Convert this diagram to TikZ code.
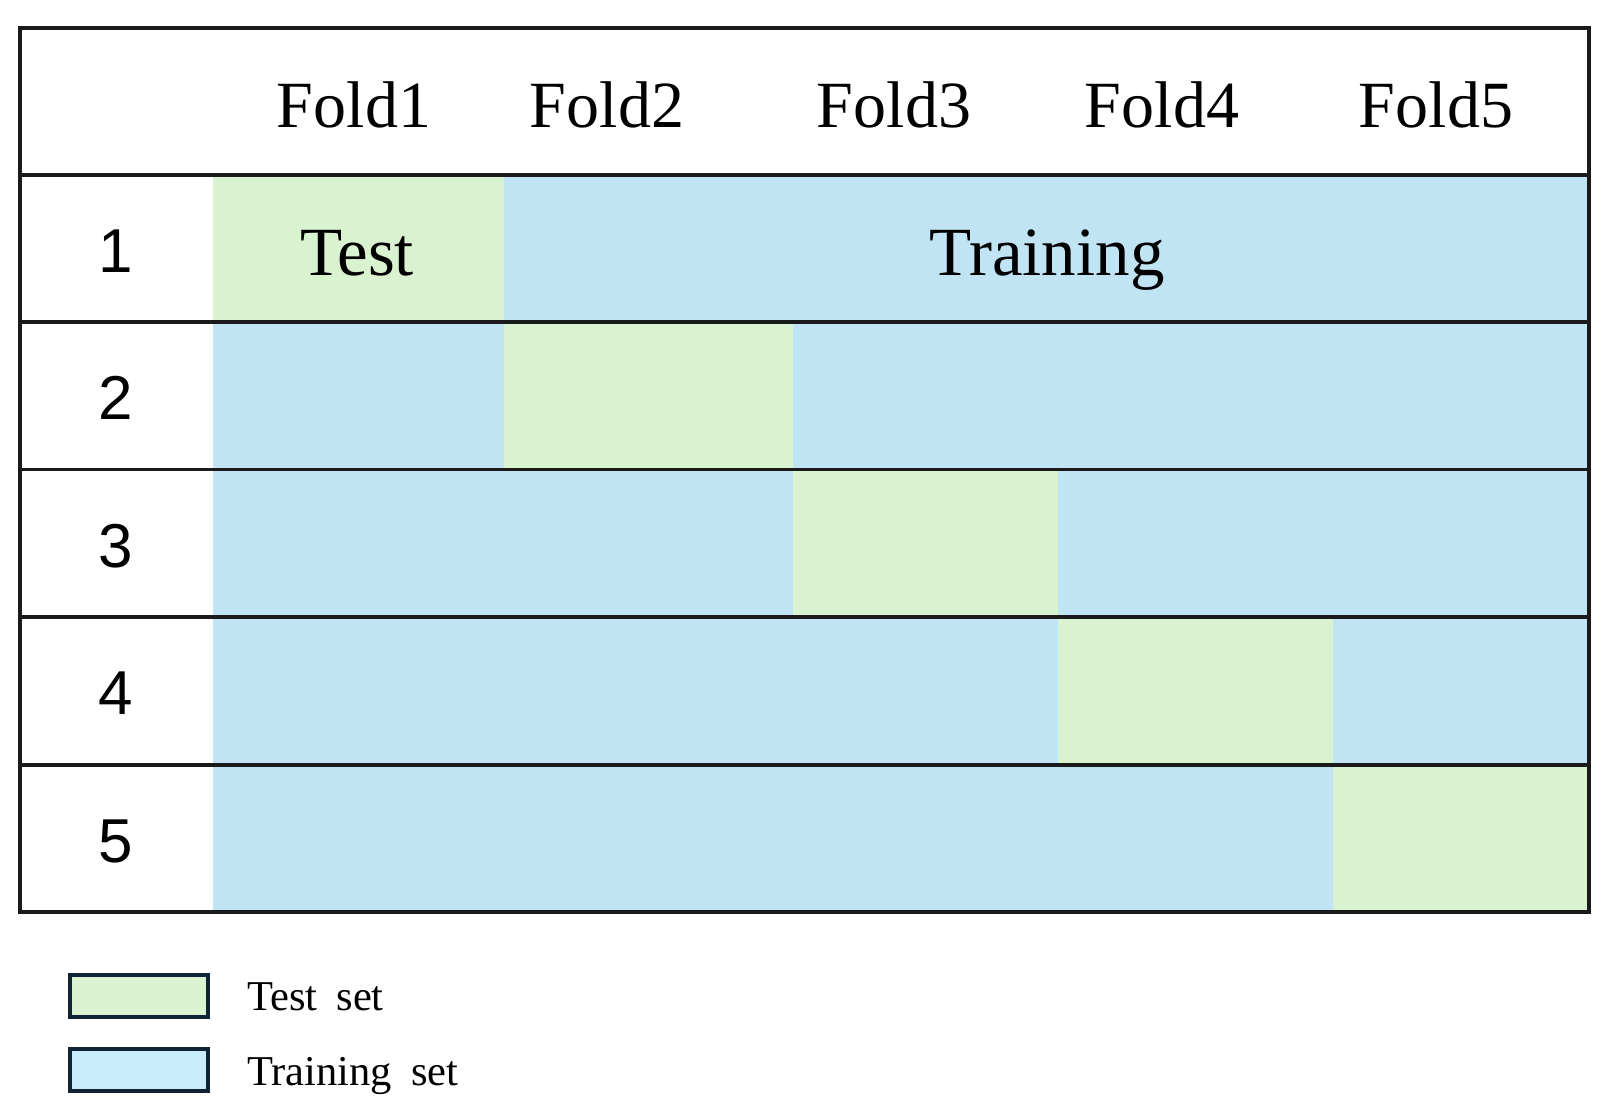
\documentclass[tikz,border=0pt]{standalone}
\usepackage{fontspec}
\setmainfont{Liberation Serif}
\newfontfamily\numfont{Liberation Sans}
\definecolor{testc}{HTML}{D9F2D0}
\definecolor{trainc}{HTML}{C1E4F5}
\definecolor{legtrain}{HTML}{CAEDFB}
\definecolor{legedge}{HTML}{0E2333}
\definecolor{gridc}{HTML}{1A1A1A}
\begin{document}
\begin{tikzpicture}[x=1pt,y=-1pt,
  hdr/.style={anchor=base,font=\fontsize{66}{76}\selectfont},
  num/.style={anchor=base,font=\numfont\fontsize{62}{70}\selectfont},
  celltxt/.style={anchor=base,font=\fontsize{69}{78}\selectfont},
  legtxt/.style={anchor=base west,font=\fontsize{42.5}{50}\selectfont,inner sep=0pt},
  legbox/.style={draw=legedge,line width=4pt,minimum width=138pt,minimum height=42pt,inner sep=0pt},
  gridline/.style={draw=gridc,line width=3.5pt}]
\useasboundingbox (0,0) rectangle (1612,1113);
\fill[white] (0,0) rectangle (1612,1113);
% column and row boundaries
\def\colx{{20,213,504,793,1058,1333,1589}}
\def\rowy{{28,175,322,469.5,617,765,912}}
% cells
\foreach \r in {1,...,5}{
  \foreach \c in {1,...,5}{
    \pgfmathsetmacro{\xa}{\colx[\c]}
    \pgfmathsetmacro{\xb}{\colx[\c+1]}
    \pgfmathsetmacro{\ya}{\rowy[\r]}
    \pgfmathsetmacro{\yb}{\rowy[\r+1]}
    \ifnum\r=\c
      \fill[testc] (\xa,\ya) rectangle (\xb,\yb);
    \else
      \fill[trainc] (\xa,\ya) rectangle (\xb,\yb);
    \fi
  }
}
% horizontal lines
\foreach \r in {1,...,5}{
  \pgfmathsetmacro{\ya}{\rowy[\r]}
  \draw[gridline] (20,\ya) -- (1589,\ya);
}
\draw[gridline] (20,28) rectangle (1589,912);
% header
\node[hdr] (f1) at (354,128) {Fold1};
\node[hdr] (f2) at (607,128) {Fold2};
\node[hdr] (f3) at (894,128) {Fold3};
\node[hdr] (f4) at (1162,128) {Fold4};
\node[hdr] (f5) at (1436,128) {Fold5};
% row numbers
\node[num] (n1) at (116,272) {1};
\node[num] (n2) at (116,419.5) {2};
\node[num] (n3) at (116,567) {3};
\node[num] (n4) at (116,714.5) {4};
\node[num] (n5) at (116,862) {5};
% cell texts
\node[celltxt] (test) at (357,275) {Test};
\node[celltxt] (train) at (1047,275) {Training};
% legend
\node[legbox,fill=testc] (lg1) at (139,996) {};
\node[legbox,fill=legtrain] (lg2) at (139,1070) {};
\node[legtxt] (lt1) at (247,1010) {Test\hspace{0.45em}set};
\node[legtxt] (lt2) at (247,1085) {Training\hspace{0.45em}set};
\end{tikzpicture}
\end{document}
